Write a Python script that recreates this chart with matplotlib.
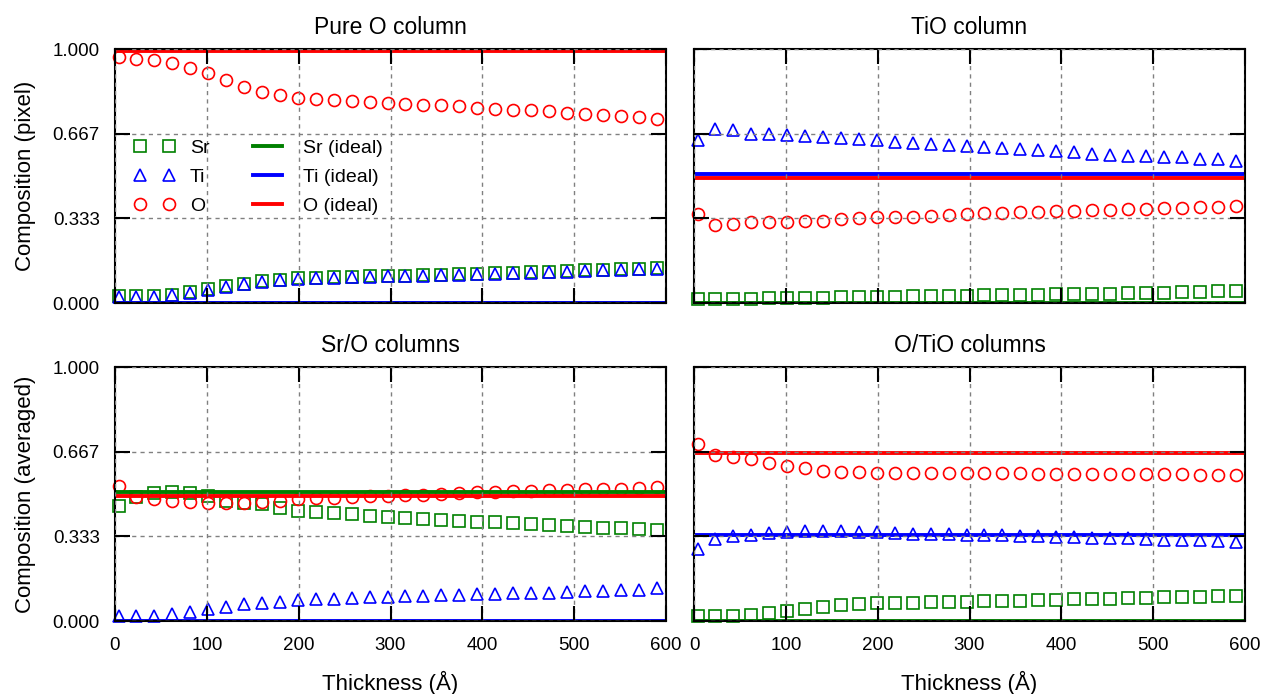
import matplotlib

matplotlib.use("Agg")
import matplotlib.pyplot as plt
from matplotlib.transforms import ScaledTranslation

plt.rcParams["font.family"] = ["Liberation Sans", "DejaVu Sans"]

# thickness of each point (A), 5 unit cells apart
thickness = [3.9, 23.4, 43.0, 62.5, 82.0, 101.5, 121.1, 140.6, 160.1, 179.6,
             199.2, 218.7, 238.2, 257.7, 277.3, 296.8, 316.3, 335.8, 355.4, 374.9,
             394.4, 413.9, 433.5, 453.0, 472.5, 492.0, 511.6, 531.1, 550.6, 570.1,
             589.7]

# Pure O column
pure_o_sr = [0.026, 0.026, 0.027, 0.033, 0.042, 0.055, 0.065, 0.076, 0.085, 0.092,
             0.097, 0.099, 0.101, 0.103, 0.105, 0.107, 0.108, 0.110, 0.112, 0.114,
             0.116, 0.118, 0.120, 0.122, 0.124, 0.126, 0.128, 0.130, 0.132, 0.134,
             0.136]
pure_o_ti = [0.024, 0.024, 0.025, 0.031, 0.040, 0.052, 0.063, 0.074, 0.083, 0.090,
             0.095, 0.097, 0.099, 0.101, 0.103, 0.105, 0.106, 0.108, 0.110, 0.112,
             0.114, 0.116, 0.118, 0.120, 0.122, 0.124, 0.126, 0.128, 0.130, 0.132,
             0.134]
pure_o_o = [0.967, 0.961, 0.957, 0.944, 0.924, 0.905, 0.876, 0.850, 0.830, 0.817,
            0.807, 0.802, 0.798, 0.796, 0.793, 0.787, 0.784, 0.780, 0.778, 0.774,
            0.767, 0.764, 0.760, 0.758, 0.754, 0.748, 0.743, 0.739, 0.735, 0.732,
            0.725]

# TiO column
tio_sr = [0.015, 0.016, 0.016, 0.017, 0.018, 0.019, 0.020, 0.021, 0.022, 0.023,
          0.024, 0.025, 0.026, 0.027, 0.028, 0.029, 0.030, 0.031, 0.032, 0.033,
          0.034, 0.035, 0.036, 0.037, 0.038, 0.039, 0.041, 0.043, 0.045, 0.047,
          0.049]
tio_ti = [0.641, 0.684, 0.680, 0.667, 0.664, 0.660, 0.656, 0.654, 0.650, 0.646,
          0.641, 0.634, 0.631, 0.627, 0.624, 0.618, 0.614, 0.612, 0.608, 0.604,
          0.599, 0.595, 0.588, 0.584, 0.580, 0.578, 0.575, 0.573, 0.567, 0.565,
          0.559]
tio_o = [0.349, 0.307, 0.310, 0.320, 0.320, 0.320, 0.324, 0.324, 0.329, 0.333,
         0.337, 0.340, 0.340, 0.342, 0.346, 0.349, 0.353, 0.356, 0.357, 0.359,
         0.362, 0.363, 0.366, 0.366, 0.369, 0.370, 0.373, 0.375, 0.376, 0.379,
         0.383]

# Sr/O columns
sro_sr = [0.451, 0.487, 0.504, 0.507, 0.503, 0.493, 0.474, 0.464, 0.461, 0.445,
          0.434, 0.428, 0.424, 0.421, 0.414, 0.411, 0.405, 0.401, 0.399, 0.395,
          0.391, 0.388, 0.386, 0.382, 0.378, 0.375, 0.371, 0.368, 0.366, 0.362,
          0.359]
sro_ti = [0.020, 0.020, 0.020, 0.026, 0.036, 0.046, 0.057, 0.066, 0.070, 0.075,
          0.082, 0.086, 0.088, 0.091, 0.093, 0.096, 0.098, 0.100, 0.101, 0.103,
          0.105, 0.106, 0.109, 0.110, 0.112, 0.114, 0.117, 0.120, 0.121, 0.122,
          0.128]
sro_o = [0.533, 0.487, 0.480, 0.474, 0.467, 0.463, 0.463, 0.464, 0.467, 0.474,
         0.480, 0.483, 0.486, 0.489, 0.491, 0.493, 0.496, 0.498, 0.501, 0.503,
         0.507, 0.509, 0.511, 0.513, 0.514, 0.516, 0.518, 0.520, 0.521, 0.522,
         0.526]

# O/TiO columns
otio_sr = [0.020, 0.020, 0.020, 0.022, 0.030, 0.039, 0.046, 0.055, 0.062, 0.066,
           0.070, 0.072, 0.072, 0.075, 0.075, 0.076, 0.078, 0.079, 0.080, 0.082,
           0.084, 0.085, 0.087, 0.088, 0.089, 0.092, 0.093, 0.095, 0.096, 0.097,
           0.099]
otio_ti = [0.283, 0.322, 0.333, 0.338, 0.346, 0.351, 0.355, 0.355, 0.353, 0.351,
           0.349, 0.345, 0.342, 0.342, 0.342, 0.339, 0.338, 0.338, 0.336, 0.336,
           0.332, 0.329, 0.328, 0.326, 0.325, 0.322, 0.320, 0.318, 0.317, 0.316,
           0.312]
otio_o = [0.697, 0.654, 0.645, 0.636, 0.622, 0.609, 0.601, 0.592, 0.586, 0.586,
          0.583, 0.583, 0.583, 0.583, 0.582, 0.582, 0.582, 0.581, 0.581, 0.580,
          0.580, 0.580, 0.579, 0.579, 0.578, 0.578, 0.577, 0.577, 0.576, 0.576,
          0.575]

# ideal (Sr, Ti, O) per panel
ideal_pure_o = [0.0, 0.0, 1.0]
ideal_tio = [0.0, 0.5, 0.5]
ideal_sro = [0.5, 0.0, 0.5]
ideal_otio = [0.0, 1 / 3, 2 / 3]

titles = ["Pure O column", "TiO column", "Sr/O columns", "O/TiO columns"]
y_labels = ["Composition (pixel)", "Composition (averaged)"]
x_ticks = [0, 100, 200, 300, 400, 500, 600]
y_ticks = [0.0, 1 / 3, 2 / 3, 1.0]
y_tick_labels = ["0.000", "0.333", "0.667", "1.000"]

species = ["Sr", "Ti", "O"]
colors = ["#008000", "#0000ff", "#ff0000"]
markers = ["s", "^", "o"]
marker_sizes = [9.2, 8.8, 8.6]

panels = [
    ([pure_o_sr, pure_o_ti, pure_o_o], ideal_pure_o),
    ([tio_sr, tio_ti, tio_o], ideal_tio),
    ([sro_sr, sro_ti, sro_o], ideal_sro),
    ([otio_sr, otio_ti, otio_o], ideal_otio),
]

fig = plt.figure(figsize=(12.63, 6.94), dpi=100)

W, H = 1263, 694
left_x = [115, 694]
top_y = [49, 367]
pw, ph = 551, 254

axes = []
for row in range(2):
    for col in range(2):
        ax = fig.add_axes([left_x[col] / W, 1 - (top_y[row] + ph) / H, pw / W, ph / H])
        axes.append(ax)

for i, ax in enumerate(axes):
    row, col = divmod(i, 2)
    series, ideal = panels[i]

    point_handles = []
    for vals, c, m, ms, name in zip(series, colors, markers, marker_sizes, species):
        h, = ax.plot(thickness, vals, linestyle="none", marker=m, ms=ms,
                     mfc="none", mec=c, mew=1.2, label=name, zorder=2, clip_on=False)
        point_handles.append(h)

    line_handles = []
    for v, c, name in zip(ideal, colors, species):
        ln = ax.axhline(v, color=c, lw=2.8, zorder=2.2, label=name + " (ideal)")
        # overlapping ideal lines: O sits a hair below the others
        if v > 0:
            dy = -1.3 if name == "O" else 1.3
            ln.set_transform(ln.get_transform() + ScaledTranslation(0, dy / 72, fig.dpi_scale_trans))
        line_handles.append(ln)

    ax.set_xlim(0, 600)
    ax.set_ylim(0, 1)
    ax.set_xticks(x_ticks)
    ax.set_yticks(y_ticks)
    ax.set_yticklabels(y_tick_labels)
    ax.tick_params(axis="both", which="major", direction="in", length=11, width=1.5,
                   top=True, right=True, labelsize=13.5, color="black")
    ax.tick_params(axis="x", pad=11.5)
    ax.tick_params(axis="y", pad=11)
    for sp in ax.spines.values():
        sp.set_linewidth(1.5)
        sp.set_color("black")
        sp.set_zorder(2.5)
    ax.grid(True, color="#808080", linestyle=(0, (3, 3)), linewidth=1.0)
    ax.set_axisbelow(False)
    for gl in ax.get_xgridlines() + ax.get_ygridlines():
        gl.set_zorder(3)

    ax.set_title(titles[i], fontsize=16.5, pad=11)

    if col == 0:
        ax.set_ylabel(y_labels[row], fontsize=16, labelpad=12)
    else:
        ax.tick_params(axis="y", labelleft=False)
    if row == 1:
        ax.set_xlabel("Thickness (\u00c5)", fontsize=16, labelpad=12)
    else:
        ax.tick_params(axis="x", labelbottom=False)

    if i == 0:
        ax.legend(point_handles + line_handles,
                  species + [s + " (ideal)" for s in species],
                  ncol=2, numpoints=2, frameon=False, fontsize=14,
                  loc="upper left", bbox_to_anchor=(0.034, 0.644),
                  borderpad=0, borderaxespad=0, handlelength=2.1,
                  handletextpad=0.8, columnspacing=1.9, labelspacing=0.58)

fig.savefig("out.png", dpi=100)
